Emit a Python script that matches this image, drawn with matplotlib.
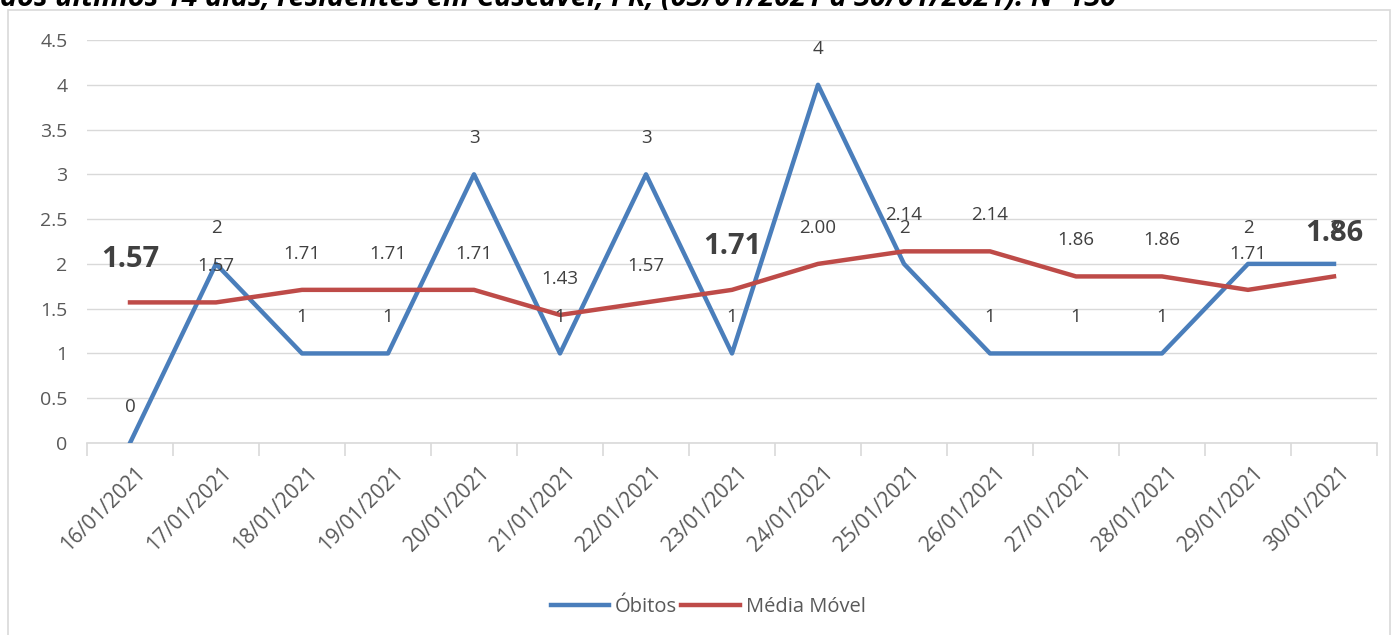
import matplotlib
matplotlib.use("Agg")
import matplotlib.pyplot as plt
from matplotlib.patches import Rectangle
import matplotlib.transforms as mtransforms
import numpy as np

datas = ["16/01/2021", "17/01/2021", "18/01/2021", "19/01/2021", "20/01/2021",
         "21/01/2021", "22/01/2021", "23/01/2021", "24/01/2021", "25/01/2021",
         "26/01/2021", "27/01/2021", "28/01/2021", "29/01/2021", "30/01/2021"]
obitos = [0, 2, 1, 1, 3, 1, 3, 1, 4, 2, 1, 1, 1, 2, 2]
media_movel = [1.57, 1.57, 1.71, 1.71, 1.71, 1.43, 1.57, 1.71, 2.00, 2.14,
               2.14, 1.86, 1.86, 1.71, 1.86]
media_labels = ["1.57", "1.57", "1.71", "1.71", "1.71", "1.43", "1.57", "1.71",
                "2.00", "2.14", "2.14", "1.86", "1.86", "1.71", "1.86"]
destaque = [0, 7, 14]  # rótulos em negrito
yticks = [0, 0.5, 1, 1.5, 2, 2.5, 3, 3.5, 4, 4.5]
ytick_labels = ["0", "0.5", "1", "1.5", "2", "2.5", "3", "3.5", "4", "4.5"]
titulo = "dos últimos 14 dias, residentes em Cascavel, PR, (03/01/2021 a 30/01/2021). N=130"

plt.rcParams['font.family'] = ['Open Sans', 'DejaVu Sans']

W, H = 1394, 635
fig = plt.figure(figsize=(W / 100, H / 100), dpi=100)

# outer chart border
fig.patches.append(Rectangle((8 / W, -0.05), (1390 - 8) / W, 1 - 10 / H + 0.05,
                             transform=fig.transFigure, fill=False,
                             edgecolor="#D9D9D9", linewidth=1.2))

# clipped title at top
fig.text(0 / W, 1 - 6 / H, titulo, fontsize=20.8, fontweight='bold',
         fontstyle='italic', color='black', va='baseline', ha='left')

ax = fig.add_axes([87 / W, (H - 443) / H, (1377 - 87) / W, (443 - 40) / H])
x = np.arange(len(datas))
blue = "#4A7EBB"
red = "#BE4B48"
ax.plot(x, obitos, color=blue, linewidth=3.2, label="Óbitos", zorder=3)
ax.plot(x, media_movel, color=red, linewidth=3.2, label="Média Móvel", zorder=3)

ax.set_xlim(-0.5, len(datas) - 0.5)
ax.set_ylim(0, 4.5)
ax.set_yticks(yticks)
ax.set_yticklabels(ytick_labels)
ax.grid(axis='y', color="#D9D9D9", linewidth=1)
ax.set_axisbelow(True)
for s in ['top', 'right', 'left']:
    ax.spines[s].set_visible(False)
ax.spines['bottom'].set_color("#D9D9D9")
ax.spines['bottom'].set_linewidth(1.2)
ax.tick_params(axis='y', length=0, pad=14, labelsize=14, labelcolor="#595959")

# x ticks at boundaries, labels at centers
ax.set_xticks(np.arange(-0.5, len(datas), 1.0))
ax.set_xticklabels([])
ax.tick_params(axis='x', which='major', length=9, color="#D9D9D9", width=1.2)
ax.set_xticks(x, minor=True)
ax.set_xticklabels(datas, minor=True, rotation=45, ha='right', rotation_mode='anchor')
ax.tick_params(axis='x', which='minor', length=0, pad=14, labelsize=15, labelcolor="#595959")
off = mtransforms.ScaledTranslation(5 / 100, 0, fig.dpi_scale_trans)
for lab in ax.get_xticklabels(minor=True):
    lab.set_transform(lab.get_transform() + off)

# data labels
for i, v in enumerate(obitos):
    ax.annotate(str(v), (i, v), xytext=(0, 26), textcoords='offset points',
                ha='center', va='center', fontsize=13.5, color="#404040", zorder=4)
for i, v in enumerate(media_movel):
    if i in destaque:
        ax.annotate(media_labels[i], (i, v), xytext=(0, 31), textcoords='offset points',
                    ha='center', va='center', fontsize=21, fontweight='bold',
                    color="#404040", zorder=5)
    else:
        ax.annotate(media_labels[i], (i, v), xytext=(0, 26), textcoords='offset points',
                    ha='center', va='center', fontsize=13.5, color="#404040", zorder=4)

leg = fig.legend(loc='center', bbox_to_anchor=(708 / W, 1 - 607 / H), ncol=2,
                 frameon=False, fontsize=14.5, handlelength=2.9, handletextpad=0.3,
                 columnspacing=0.2)
for t in leg.get_texts():
    t.set_color("#595959")

fig.savefig("out.png", dpi=100)
